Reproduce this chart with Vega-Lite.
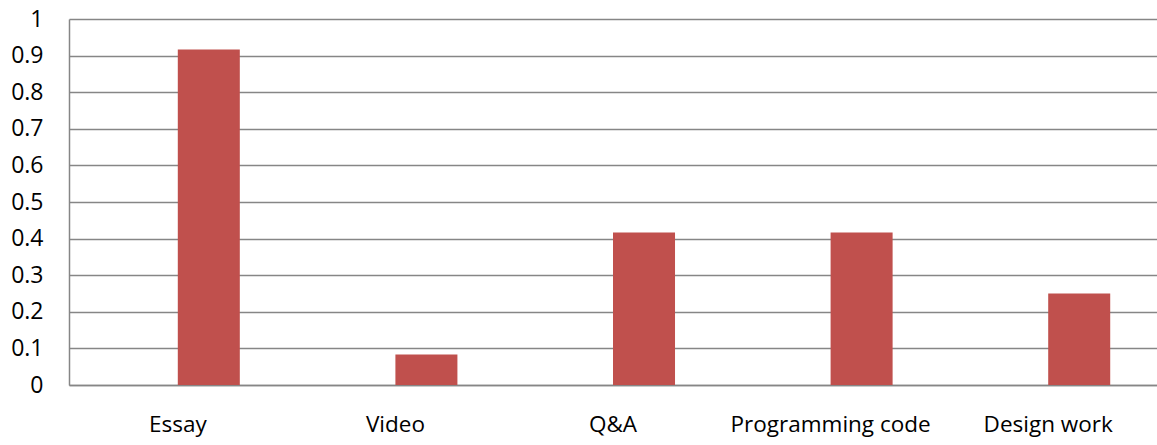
{
  "$schema": "https://vega.github.io/schema/vega-lite/v6.json",
  "autosize": "none",
  "width": 1088,
  "height": 366,
  "padding": {"left": 69, "top": 19, "right": 0, "bottom": 60},
  "background": "white",
  "config": {"view": {"stroke": null}, "font": "Open Sans"},
  "data": {"values": [
    {"category": "Essay", "series": "b", "value": 0.917},
    {"category": "Video", "series": "b", "value": 0.083},
    {"category": "Q&A", "series": "b", "value": 0.417},
    {"category": "Programming code", "series": "b", "value": 0.417},
    {"category": "Design work", "series": "b", "value": 0.25}
  ]},
  "mark": {"type": "bar", "color": "#C0504D"},
  "encoding": {
    "x": {
      "field": "category", "type": "nominal", "sort": null,
      "scale": {"paddingInner": 0.43, "paddingOuter": 0.215},
      "axis": {"title": null, "labelAngle": 0, "ticks": false, "labelFontSize": 22.5, "labelLimit": 400, "labelColor": "#000000", "labelPadding": 28, "domainColor": "#868686", "domainWidth": 1.5, "labelFont": "Open Sans"}
    },
    "xOffset": {"field": "series", "type": "nominal", "scale": {"domain": ["a", "b"], "paddingInner": 0, "paddingOuter": 0}},
    "y": {
      "field": "value", "type": "quantitative",
      "scale": {"domain": [0, 1], "nice": false},
      "axis": {"title": null, "values": [0, 0.1, 0.2, 0.3, 0.4, 0.5, 0.6, 0.7, 0.8, 0.9, 1], "format": ".1~f", "ticks": false, "labelFontSize": 23, "labelColor": "#000000", "labelPadding": 26, "grid": true, "gridColor": "#868686", "gridWidth": 1.5, "domainColor": "#868686", "domainWidth": 1.5, "labelFont": "Open Sans"}
    }
  }
}
